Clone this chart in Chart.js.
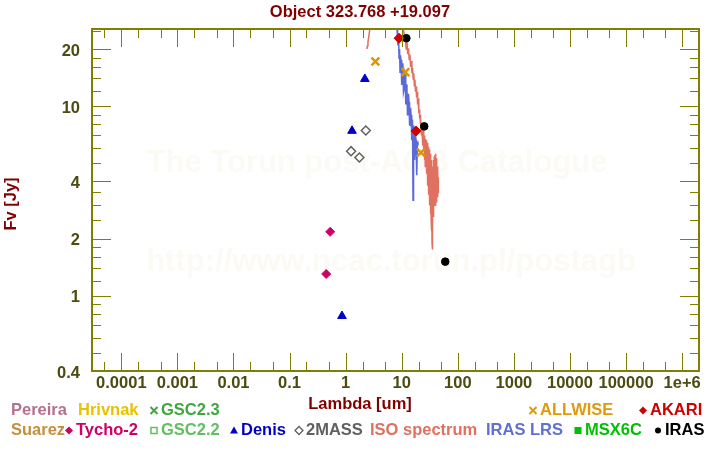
<!DOCTYPE html>
<html>
<head>
<meta charset="utf-8">
<script src="https://cdn.jsdelivr.net/npm/chart.js@4/dist/chart.umd.min.js"></script>
<style>
  html, body { margin: 0; padding: 0; background: #fff; }
  canvas { display: block; }
</style>
</head>
<body>
<canvas id="sed" width="720" height="450"></canvas>
<script>
const FONT = "'Liberation Sans', Arial, sans-serif";
const AXIS_COLOR = "#808000";
const TICK_TEXT = "#4b4b12";
const TITLE_COLOR = "#800000";

// photometry, lambda in um, flux in Jy
const tychoLambda = [0.45, 0.53];
const tychoFlux = [1.30, 2.17];
const denisLambda = [0.86, 1.3, 2.2];
const denisFlux = [0.78, 7.4, 13.9];
const twoMassLambda = [1.25, 1.76, 2.29];
const twoMassFlux = [5.78, 5.35, 7.43];
const allwiseLambda = [3.39, 11.6, 22.0];
const allwiseFlux = [17.2, 15.1, 5.69];
const akariLambda = [8.95, 18.0];
const akariFlux = [22.8, 7.38];
const irasLambda = [12.1, 25.2, 59.7];
const irasFlux = [22.8, 7.81, 1.51];

// spectra
const isoLambda = [2.40, 2.45, 2.5, 2.6, 2.7, 2.8, 3.0, 3.5, 4.0, 5.0, 6.0, 7.0, 8.0, 9.0, 10.0,
  10.5, 10.8, 11.2, 11.6, 12.0, 12.4, 12.8, 13.2, 13.6, 14.0, 14.4, 14.8, 15.2, 15.6, 16.0,
  16.4, 16.8, 17.2, 17.6, 18.0, 18.4, 18.8, 19.2, 19.6,
  20.0, 20.3, 20.6, 20.9, 21.2, 21.5, 21.8, 22.1, 22.4, 22.7, 23.0, 23.3, 23.6, 23.9, 24.2,
  24.5, 24.8, 25.1, 25.4, 25.7, 26.0, 26.3, 26.6, 26.9, 27.2, 27.5, 27.8, 28.1, 28.4, 28.7,
  29.0, 29.3, 29.6, 29.9, 30.2, 30.5, 30.8, 31.1, 31.4, 31.7, 32.0, 32.3, 32.6, 32.9, 33.2,
  33.5, 33.8, 34.1, 34.4, 34.7, 35.0, 35.2, 35.5, 35.8, 36.2, 36.6, 37.0, 37.5, 38.0, 38.5,
  39.0, 39.5, 40.0, 40.5, 41.0, 41.5, 42.0, 42.5, 43.0, 43.5, 44.0, 44.5, 45.0];
const isoFlux = [20.0, 20.8, 21.8, 23.5, 25.5, 27.5, 31, 40, 48, 58, 62, 60, 52, 42, 32,
  27.5, 25.0, 23.2, 23.0, 20.0, 21.9, 18.8, 20.2, 17.6, 18.7, 16.1, 17.3, 14.9, 15.9, 13.9,
  14.9, 12.8, 13.8, 11.9, 12.7, 11.1, 11.9, 10.2, 11.0,
  9.9, 9.2, 9.6, 8.6, 9.0, 8.0, 8.6, 7.6, 8.2, 7.0, 7.9, 6.8, 7.6, 6.2, 7.4,
  5.8, 7.2, 6.0, 7.0, 5.2, 6.8, 4.8, 6.7, 5.6, 6.6, 4.4, 6.5, 5.0, 6.4, 3.8,
  6.2, 4.6, 6.1, 3.4, 6.0, 4.0, 5.9, 3.0, 5.8, 3.6, 5.6, 2.7, 5.5, 3.2, 5.4,
  2.5, 5.2, 2.2, 5.0, 1.9, 4.6, 1.75, 4.4, 2.3, 4.8, 2.6, 5.2, 2.9, 5.4, 3.2,
  5.5, 3.0, 5.6, 3.4, 5.3, 3.1, 5.0, 3.6, 4.8, 3.3, 4.5, 3.5, 4.2];
const lrsLambda = [8.25, 8.45, 8.6, 8.8, 8.95, 9.15, 9.33, 9.5, 9.72, 9.9, 10.1, 10.3, 10.5,
  10.75, 11.0, 11.25, 11.5, 11.7, 11.9, 12.15, 12.4, 12.65, 12.9, 13.2, 13.5, 13.8, 14.1,
  14.4, 14.7, 14.95, 15.2, 15.55, 15.9, 16.25, 16.6, 16.95, 17.3, 17.65, 18.0, 18.35, 18.7, 19.1, 19.5];
const lrsFlux = [25.3, 22.0, 21.0, 23.5, 17.9, 20.0, 15.1, 18.5, 17.5, 13.5, 12.9, 16.8, 15.9,
  11.8, 12.2, 15.0, 14.6, 10.2, 10.8, 13.0, 12.5, 9.0, 9.53, 11.6, 10.5, 8.0, 7.93,
  9.8, 8.96, 6.6, 7.03, 8.5, 3.18, 7.9, 7.65, 5.2, 5.85, 7.0, 6.61, 5.0, 4.31, 6.5, 6.22];

// axes
const xTickValues = [5e-5, 1e-4, 2e-4, 5e-4, 1e-3, 2e-3, 5e-3, 1e-2, 2e-2, 5e-2, 0.1, 0.2, 0.5,
  1, 2, 5, 10, 20, 50, 100, 200, 500, 1e3, 2e3, 5e3, 1e4, 2e4, 5e4, 1e5, 2e5, 5e5, 1e6, 2e6];
const xMajor = [1e-4, 1e-3, 1e-2, 0.1, 1, 10, 100, 1e3, 1e4, 1e5, 1e6];
const xLabels = ["0.0001", "0.001", "0.01", "0.1", "1", "10", "100", "1000", "10000", "100000", "1e+6"];
const yTickValues = [0.4, 0.5, 0.6, 0.7, 0.8, 0.9, 1, 1.2, 1.4, 1.6, 1.8, 2, 2.5, 3, 3.5, 4,
  5, 6, 7, 8, 9, 10, 12, 14, 16, 18, 20, 25];
const yMajor = [0.4, 1, 2, 4, 10, 20];
const yLabels = ["0.4", "1", "2", "4", "10", "20"];

const toXY = (xs, ys) => xs.map((x, i) => ({ x, y: ys[i] }));

function pointSet(label, xs, ys, style) {
  return {
    label,
    data: toXY(xs, ys),
    showLine: false,
    order: 0,
    ...style,
  };
}

const watermark = {
  id: "watermark",
  beforeDatasetsDraw(chart) {
    const { ctx } = chart;
    ctx.save();
    ctx.fillStyle = "#fbfaf5";
    ctx.font = "bold 31px " + FONT;
    ctx.textAlign = "center";
    ctx.textBaseline = "middle";
    ctx.fillText("The Torun post-AGB Catalogue", 377, 163);
    ctx.fillText("http://www.ncac.torun.pl/postagb", 391, 262);
    ctx.restore();
  },
};

const axisBox = {
  id: "axisBox",
  afterDatasetsDraw(chart) {
    const { ctx, chartArea: a, scales: { x, y } } = chart;
    ctx.save();
    ctx.strokeStyle = AXIS_COLOR;
    ctx.lineWidth = 1;
    ctx.beginPath();
    xTickValues.forEach((v) => {
      const px = Math.round(x.getPixelForValue(v)) + 0.5;
      const len = xMajor.includes(v) ? 18 : 9;
      ctx.moveTo(px, a.bottom);
      ctx.lineTo(px, a.bottom - len);
      ctx.moveTo(px, a.top);
      ctx.lineTo(px, a.top + len);
    });
    yTickValues.forEach((v) => {
      const py = Math.round(y.getPixelForValue(v)) + 0.5;
      const len = yMajor.includes(v) && v !== 0.4 ? 19 : 9;
      ctx.moveTo(a.left, py);
      ctx.lineTo(a.left + len, py);
      ctx.moveTo(a.right, py);
      ctx.lineTo(a.right - len, py);
    });
    ctx.stroke();
    ctx.lineWidth = 2;
    ctx.strokeRect(a.left, a.top, a.right - a.left, a.bottom - a.top);
    ctx.restore();
  },
};

// legend entries: [text, x, row, color, marker]
const legendItems = [
  ["Pereira", 11, 0, "#b5708f", null],
  ["Hrivnak", 78, 0, "#e6c300", null],
  ["GSC2.3", 161, 0, "#40a640", "cross"],
  ["ALLWISE", 540, 0, "#e09a0a", "cross"],
  ["AKARI", 650, 0, "#d00000", "diamond"],
  ["Suarez", 11, 1, "#c68e3e", null],
  ["Tycho-2", 76, 1, "#cc0066", "diamond"],
  ["GSC2.2", 161, 1, "#60c060", "square"],
  ["Denis", 241, 1, "#0000c8", "triangle"],
  ["2MASS", 306, 1, "#606060", "openDiamond"],
  ["ISO spectrum", 370, 1, "#e07060", null],
  ["IRAS LRS", 486, 1, "#6070d0", null],
  ["MSX6C", 585, 1, "#00c000", "filledSquare"],
  ["IRAS", 665, 1, "#000000", "dot"],
];

function drawMarker(ctx, kind, cx, cy, color) {
  ctx.fillStyle = color;
  ctx.strokeStyle = color;
  ctx.beginPath();
  if (kind === "cross") {
    ctx.lineWidth = 2;
    ctx.moveTo(cx - 3.5, cy - 3.5); ctx.lineTo(cx + 3.5, cy + 3.5);
    ctx.moveTo(cx + 3.5, cy - 3.5); ctx.lineTo(cx - 3.5, cy + 3.5);
    ctx.stroke();
  } else if (kind === "diamond" || kind === "openDiamond") {
    ctx.moveTo(cx - 4, cy); ctx.lineTo(cx, cy - 4); ctx.lineTo(cx + 4, cy); ctx.lineTo(cx, cy + 4);
    ctx.closePath();
    if (kind === "diamond") ctx.fill(); else { ctx.lineWidth = 1.3; ctx.stroke(); }
  } else if (kind === "square") {
    ctx.lineWidth = 1.5;
    ctx.strokeRect(cx - 3, cy - 3, 6, 6);
  } else if (kind === "filledSquare") {
    ctx.fillRect(cx - 3.5, cy - 3.5, 7, 7);
  } else if (kind === "triangle") {
    ctx.moveTo(cx - 4, cy + 3); ctx.lineTo(cx + 4, cy + 3); ctx.lineTo(cx, cy - 4);
    ctx.closePath();
    ctx.fill();
  } else if (kind === "dot") {
    ctx.arc(cx, cy, 3, 0, Math.PI * 2);
    ctx.fill();
  }
}

const captions = {
  id: "captions",
  afterDraw(chart) {
    const { ctx } = chart;
    ctx.save();
    ctx.font = "bold 16.5px " + FONT;
    ctx.fillStyle = TITLE_COLOR;
    ctx.textAlign = "center";
    ctx.textBaseline = "middle";
    ctx.fillText("Object 323.768 +19.097", 360, 12);
    ctx.fillText("Lambda [um]", 360, 404);
    ctx.save();
    ctx.translate(11, 204);
    ctx.rotate(-Math.PI / 2);
    ctx.fillText("Fv [Jy]", 0, 0);
    ctx.restore();

    ctx.textAlign = "left";
    legendItems.forEach(([text, x, row, color, marker]) => {
      const cy = row === 0 ? 410.5 : 430.5;
      if (marker) drawMarker(ctx, marker, x - 7, cy, color);
      ctx.fillStyle = color;
      ctx.fillText(text, x, cy);
    });
    ctx.restore();
  },
};

new Chart(document.getElementById("sed"), {
  type: "scatter",
  data: {
    datasets: [
      pointSet("AKARI", akariLambda, akariFlux, {
        pointStyle: "rectRot", pointRadius: 5, backgroundColor: "#d00000", borderColor: "#d00000", borderWidth: 1,
      }),
      pointSet("IRAS", irasLambda, irasFlux, {
        pointStyle: "circle", pointRadius: 3.8, backgroundColor: "#000", borderColor: "#000", borderWidth: 1,
      }),
      pointSet("ALLWISE", allwiseLambda, allwiseFlux, {
        pointStyle: "crossRot", pointRadius: 5.5, borderColor: "#e09400", borderWidth: 2.5,
      }),
      pointSet("Tycho-2", tychoLambda, tychoFlux, {
        pointStyle: "rectRot", pointRadius: 4.5, backgroundColor: "#cc0066", borderColor: "#cc0066", borderWidth: 1,
      }),
      pointSet("Denis", denisLambda, denisFlux, {
        pointStyle: "triangle", pointRadius: 5, backgroundColor: "#0000c8", borderColor: "#0000c8", borderWidth: 1,
      }),
      pointSet("2MASS", twoMassLambda, twoMassFlux, {
        pointStyle: "rectRot", pointRadius: 4.5, backgroundColor: "rgba(0,0,0,0)", borderColor: "#606060", borderWidth: 1.5,
      }),
      {
        label: "ISO spectrum",
        data: toXY(isoLambda, isoFlux),
        showLine: true,
        pointRadius: 0,
        borderColor: "#e07060",
        borderWidth: 1.5,
        tension: 0,
        order: 1,
      },
      {
        label: "IRAS LRS",
        data: toXY(lrsLambda, lrsFlux),
        showLine: true,
        pointRadius: 0,
        borderColor: "#5b6bd6",
        borderWidth: 1.5,
        tension: 0,
        order: 2,
      },
    ],
  },
  options: {
    responsive: false,
    animation: false,
    layout: { padding: { left: 0, right: 21, top: 29, bottom: 57 } },
    scales: {
      x: {
        type: "logarithmic",
        min: 3e-5,
        max: 2e6,
        grid: { display: false },
        border: { display: false },
        afterBuildTicks: (scale) => { scale.ticks = xTickValues.map((v) => ({ value: v })); },
        afterFit: (scale) => { scale.height = 22; },
        ticks: {
          autoSkip: false,
          maxRotation: 0,
          padding: -5,
          color: TICK_TEXT,
          font: { family: FONT, size: 16.5, weight: "bold" },
          callback: (v) => { const i = xMajor.indexOf(v); return i < 0 ? "" : xLabels[i]; },
        },
      },
      y: {
        type: "logarithmic",
        min: 0.4,
        max: 25.5,
        grid: { display: false },
        border: { display: false },
        afterBuildTicks: (scale) => { scale.ticks = yTickValues.map((v) => ({ value: v })); },
        afterFit: (scale) => { scale.width = 92; },
        ticks: {
          autoSkip: false,
          padding: 4,
          labelOffset: 2,
          color: TICK_TEXT,
          font: { family: FONT, size: 16.5, weight: "bold" },
          callback: (v) => { const i = yMajor.indexOf(v); return i < 0 ? "" : yLabels[i]; },
        },
      },
    },
    plugins: {
      legend: { display: false },
      tooltip: { enabled: false },
    },
  },
  plugins: [watermark, axisBox, captions],
});
</script>
</body>
</html>
